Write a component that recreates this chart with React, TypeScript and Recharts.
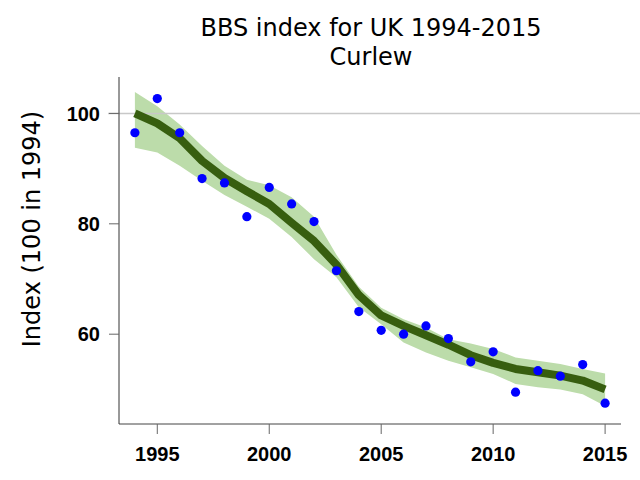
import React from "react";
import {
  ComposedChart,
  Area,
  Line,
  XAxis,
  YAxis,
  ReferenceLine,
} from "recharts";

const years = [
  1994, 1995, 1996, 1997, 1998, 1999, 2000, 2001, 2002, 2003, 2004, 2005,
  2006, 2007, 2008, 2009, 2010, 2011, 2012, 2013, 2014, 2015,
];
const indexValues = [
  96.5, 102.7, 96.5, 88.2, 87.4, 81.3, 86.6, 83.6, 80.4, 71.5, 64.1, 60.7,
  60.0, 61.5, 59.2, 55.0, 56.8, 49.5, 53.4, 52.4, 54.5, 47.5,
];
const trendValues = [
  100.0, 98.2, 95.5, 91.4, 88.3, 85.9, 83.6, 80.2, 76.9, 72.6, 67.1, 63.4,
  61.5, 59.8, 58.1, 56.2, 54.8, 53.7, 53.1, 52.5, 51.6, 50.0,
];
const lowerValues = [
  93.8, 92.9, 90.5, 87.8, 85.2, 83.1, 80.9, 77.6, 73.6, 70.3, 64.9, 61.8,
  58.5, 56.7, 55.2, 54.0, 52.8, 51.0, 50.4, 50.0, 49.1, 47.0,
];
const upperValues = [
  103.9, 101.3, 98.0, 94.1, 90.5, 88.0, 87.0, 84.8, 81.3, 74.4, 68.6, 64.8,
  62.7, 61.2, 59.1, 58.3, 57.3, 55.8, 55.2, 54.6, 53.7, 52.9,
];
const xTicks = [1995, 2000, 2005, 2010, 2015];
const yTicks = [60, 80, 100];

const data = years.map((year, i) => ({
  year,
  index: indexValues[i],
  trend: trendValues[i],
  band: [lowerValues[i], upperValues[i]],
}));

const tickFont = {
  fontFamily: "'Liberation Sans', Arial, sans-serif",
  fontWeight: 700,
  fontSize: 20,
  fill: "#000",
};

export default function App() {
  return (
    <div
      style={{
        position: "absolute",
        left: 0,
        top: 0,
        width: 640,
        height: 480,
        background: "#fff",
      }}
    >
      <ComposedChart
        width={640}
        height={480}
        data={data}
        margin={{ top: 77, right: 19, bottom: 0, left: 0 }}
      >
        <XAxis
          dataKey="year"
          type="number"
          domain={[1993.29, 2015.71]}
          ticks={xTicks}
          allowDataOverflow
          height={56}
          tickSize={10}
          tickMargin={13}
          axisLine={{ stroke: "#444" }}
          tickLine={{ stroke: "#666" }}
          tick={tickFont}
        />
        <YAxis
          type="number"
          domain={[43.73, 106.6]}
          ticks={yTicks}
          allowDataOverflow
          width={119}
          tickSize={10}
          tickMargin={9}
          axisLine={{ stroke: "#333" }}
          tickLine={{ stroke: "#666" }}
          tick={tickFont}
        />
        <ReferenceLine
          segment={[
            { x: 1992.8, y: 100 },
            { x: 2016.6, y: 100 },
          ]}
          ifOverflow="visible"
          stroke="#c8c8c8"
          strokeWidth={1.5}
        />
        <Area
          dataKey="band"
          type="linear"
          stroke="none"
          fill="#bcdcaa"
          fillOpacity={1}
          isAnimationActive={false}
          activeDot={false}
        />
        <Line
          dataKey="trend"
          type="linear"
          stroke="#375e0f"
          strokeWidth={8}
          strokeLinecap="butt"
          strokeLinejoin="round"
          dot={false}
          activeDot={false}
          isAnimationActive={false}
        />
        <Line
          dataKey="index"
          type="linear"
          stroke="none"
          dot={{ r: 4.6, fill: "#0000ff", stroke: "none" }}
          activeDot={false}
          isAnimationActive={false}
        />
      </ComposedChart>
      <svg
        width={640}
        height={480}
        style={{ position: "absolute", left: 0, top: 0, pointerEvents: "none" }}
      >
        <g
          fontFamily="'DejaVu Sans', Verdana, sans-serif"
          fontSize={24}
          fill="#000"
          textAnchor="middle"
        >
          <text x={371} y={36}>
            BBS index for UK 1994-2015
          </text>
          <text x={371} y={65}>
            Curlew
          </text>
          <text transform="rotate(-90)" x={-229} y={40}>
            Index (100 in 1994)
          </text>
        </g>
      </svg>
    </div>
  );
}
